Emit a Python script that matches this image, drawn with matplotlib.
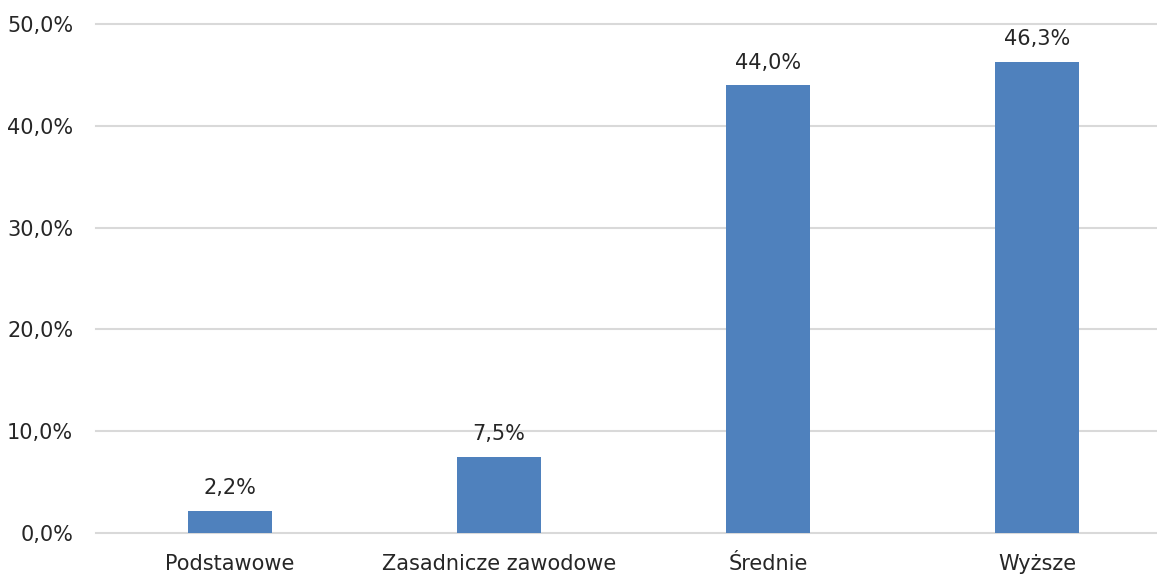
import matplotlib.pyplot as plt
from matplotlib.ticker import FuncFormatter

categories = ["Podstawowe", "Zasadnicze zawodowe", "Średnie", "Wyższe"]
shares = [2.2, 7.5, 44.0, 46.3]
y_ticks = [0, 10, 20, 30, 40, 50]

plt.rcParams['font.family'] = ['DejaVu Sans']

fig = plt.figure(figsize=(11.57, 5.74), dpi=100)
# plot area: left at ~95px, zero line at 533px, 50% line at 24px
ax = fig.add_axes([95.5 / 1157, 41 / 574, 1076 / 1157, (533 - 24) / 574])

x = range(len(categories))
bars = ax.bar(x, shares, width=0.312, color="#4F81BD", zorder=3)

for b, v in zip(bars, shares):
    ax.annotate(f"{v:.1f}%".replace(".", ","),
                (b.get_x() + b.get_width() / 2, v),
                xytext=(0, 9), textcoords="offset points",
                ha="center", va="bottom", fontsize=15, color="#262626")

ax.set_xlim(-0.5, len(categories) - 0.5)
ax.set_ylim(0, 50)
ax.set_yticks(y_ticks)
ax.yaxis.set_major_formatter(FuncFormatter(lambda v, _: f"{v:.1f}%".replace(".", ",")))
ax.set_xticks(list(x))
ax.set_xticklabels(categories)

ax.grid(axis="y", color="#D9D9D9", linewidth=1.5, zorder=0)
for gl in ax.get_ygridlines():
    gl.set_clip_on(False)
for s in ax.spines.values():
    s.set_visible(False)
ax.tick_params(axis="both", length=0, labelsize=15, colors="#262626")
ax.tick_params(axis="y", pad=16)
ax.tick_params(axis="x", pad=15)

fig.savefig("out.png", dpi=100)
